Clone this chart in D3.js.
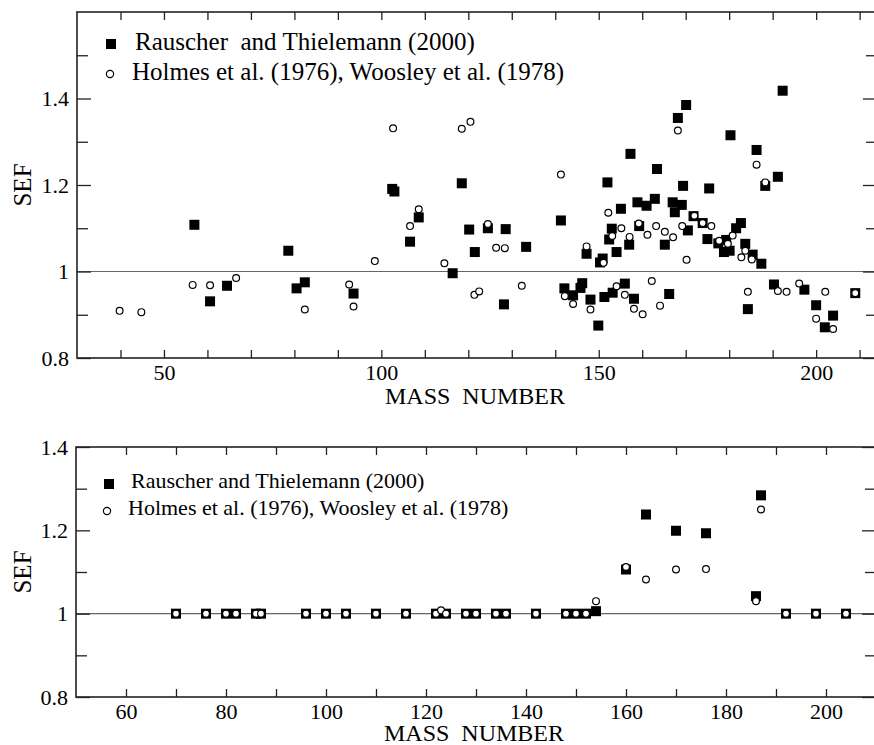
<!DOCTYPE html>
<html>
<head>
<meta charset="utf-8">
<script src="https://cdn.jsdelivr.net/npm/d3@7"></script>
<style>
  body { margin: 0; background: #fff; }
  svg { display: block; }
  svg text { font-family: "Liberation Serif", "Tinos", "Nimbus Roman", "Times New Roman", "DejaVu Serif", serif; }
</style>
</head>
<body>
<svg id="chart" width="874" height="745"></svg>
<script>
// top panel: [mass number, SEF]
var rtTop = [[57,1.108],[60.6,0.931],[64.5,0.967],[78.6,1.048],[80.5,0.961],[82.4,0.975],[93.6,0.949],
  [102.5,1.191],[103,1.185],[106.6,1.069],[108.6,1.125],[116.4,0.996],[118.5,1.204],[120.2,1.097],[121.5,1.045],
  [124.5,1.100],[128.2,0.924],[128.6,1.098],[133.3,1.057],[141.3,1.118],[142.1,0.961],[144.1,0.945],[145.8,0.962],
  [146.2,0.973],[147.2,1.041],[148.1,0.935],[149.9,0.875],[150.3,1.021],[150.9,1.030],[151.3,0.941],[152.0,1.206],
  [152.4,1.074],[153.0,1.099],[153.2,0.951],[154.1,1.045],[155.1,1.145],[156.0,0.972],[157.0,1.062],[157.3,1.272],
  [158.1,0.937],[158.9,1.160],[159.3,1.105],[161.0,1.152],[162.9,1.168],[163.4,1.237],[165.2,1.062],[166.2,0.948],
  [167.0,1.160],[167.5,1.137],[168.2,1.355],[169.1,1.154],[169.4,1.198],[170.1,1.385],[170.5,1.095],[171.8,1.128],
  [173.9,1.112],[175.0,1.075],[175.4,1.192],[177.5,1.065],[178.8,1.045],[179.3,1.073],[180.1,1.048],[180.3,1.315],
  [181.6,1.100],[182.7,1.112],[183.7,1.064],[184.3,0.913],[185.4,1.039],[186.3,1.281],[187.4,1.018],[188.3,1.198],
  [190.3,0.970],[191.2,1.219],[192.3,1.418],[197.3,0.958],[200.0,0.922],[202.0,0.871],[203.9,0.898],[209.0,0.950]];

var hwTop = [[39.8,0.909],[44.8,0.906],[56.6,0.969],[60.6,0.968],[66.6,0.985],[82.4,0.912],[92.6,0.970],[93.6,0.919],
  [98.5,1.024],[102.7,1.331],[106.6,1.105],[108.6,1.144],[114.5,1.019],[118.5,1.330],[120.5,1.346],[121.4,0.946],
  [122.5,0.954],[124.5,1.110],[126.4,1.055],[128.4,1.054],[132.3,0.967],[141.3,1.224],[142.2,0.943],[144.1,0.925],
  [147.2,1.058],[148.1,0.912],[151.1,1.020],[152.2,1.136],[153.1,1.082],[154.1,0.966],[155.2,1.100],[156.0,0.946],
  [157.1,1.080],[158.1,0.914],[159.2,1.111],[160.1,0.901],[161.2,1.085],[162.2,0.978],[163.2,1.105],[164.1,0.921],
  [165.2,1.092],[167.1,1.079],[168.2,1.326],[169.2,1.105],[170.2,1.027],[172.0,1.129],[173.9,1.112],[175.9,1.105],
  [177.7,1.071],[179.7,1.064],[180.8,1.083],[182.8,1.033],[183.7,1.048],[184.3,0.953],[185.2,1.028],[186.3,1.247],
  [188.3,1.206],[191.2,0.955],[193.2,0.953],[196.1,0.972],[200.0,0.891],[202.1,0.953],[203.9,0.867],[209.0,0.950]];

// bottom panel
var rtBottom = [[70,1],[76,1],[80,1],[82,1],[86,1],[87,1],[96,1],[100,1],[104,1],[110,1],[116,1],[122,1],[124,1],
  [128,1],[130,1],[134,1],[136,1],[142,1],[148,1],[150,1],[152,1],[154,1.006],[160,1.106],[164,1.238],[170,1.199],
  [176,1.193],[186,1.042],[187,1.284],[192,1],[198,1],[204,1]];

var hwBottom = [[70,1],[76,1],[80,1],[82,1],[86,1],[87,1],[96,1],[100,1],[104,1],[110,1],[116,1],[122,1],[123,1.008],
  [124,1],[128,1],[130,1],[134,1],[136,1],[142,1],[148,1],[150,1],[152,1],[154,1.030],[160,1.112],[164,1.082],
  [170,1.106],[176,1.107],[186,1.030],[187,1.250],[192,1],[198,1],[204,1]];

var topXTicks = d3.range(40, 211, 10);
var topYMajor = [0.8, 1, 1.2, 1.4];
var topYMinor = [0.9, 1.1, 1.3, 1.5];
var botXTicks = d3.range(60, 201, 10);
var botYMajor = [0.8, 1, 1.2, 1.4];
var botYMinor = [0.9, 1.1, 1.3];

var legendTop = ["Rauscher\u00A0\u00A0and Thielemann (2000)", "Holmes et al. (1976), Woosley et al. (1978)"];
var legendBot = ["Rauscher and Thielemann (2000)", "Holmes et al. (1976), Woosley et al. (1978)"];

var serif = "'Liberation Serif', 'Tinos', 'Nimbus Roman', 'Times New Roman', 'DejaVu Serif', serif";
var svg = d3.select("#chart");

function panel(cfg) {
  var x = d3.scaleLinear().domain(cfg.xDomain).range([cfg.left, cfg.right]);
  var y = d3.scaleLinear().domain(cfg.yDomain).range([cfg.bottom, cfg.top]);
  var g = svg.append("g");

  // SEF = 1 reference line
  g.append("line")
    .attr("x1", cfg.left).attr("x2", cfg.right)
    .attr("y1", y(1)).attr("y2", y(1))
    .attr("stroke", "#666").attr("stroke-width", 1.2);

  var s = 10;
  g.selectAll("rect.sq").data(cfg.squares).enter().append("rect")
    .attr("class", "sq")
    .attr("x", function (d) { return x(d[0]) - s / 2 })
    .attr("y", function (d) { return y(d[1]) - s / 2 })
    .attr("width", s).attr("height", s)
    .attr("fill", "#000");

  g.selectAll("circle.ci").data(cfg.circles).enter().append("circle")
    .attr("class", "ci")
    .attr("cx", function (d) { return x(d[0]) })
    .attr("cy", function (d) { return y(d[1]) })
    .attr("r", 3.4)
    .attr("fill", "#fff").attr("stroke", "#000").attr("stroke-width", 1.2);

  // axes, ticks pointing inward
  g.append("g").attr("transform", "translate(0," + cfg.bottom + ")")
    .call(d3.axisBottom(x).tickValues(cfg.xTicks).tickSize(-8).tickPadding(6)
      .tickFormat(function (d) { return d % cfg.xLabelEvery === 0 ? d : "" }));
  g.append("g").attr("transform", "translate(0," + cfg.top + ")")
    .call(d3.axisTop(x).tickValues(cfg.xTicks).tickSize(-8).tickFormat(""));

  g.append("g").attr("transform", "translate(" + cfg.left + ",0)")
    .call(d3.axisLeft(y).tickValues(cfg.yMajor).tickSize(-14).tickPadding(8)
      .tickFormat(d3.format("~g")));
  g.append("g").attr("transform", "translate(" + cfg.left + ",0)")
    .call(d3.axisLeft(y).tickValues(cfg.yMinor).tickSize(-11).tickFormat(""));
  g.append("g").attr("transform", "translate(" + cfg.right + ",0)")
    .call(d3.axisLeft(y).tickValues(cfg.yMajor).tickSize(14).tickFormat(""));
  g.append("g").attr("transform", "translate(" + cfg.right + ",0)")
    .call(d3.axisLeft(y).tickValues(cfg.yMinor).tickSize(11).tickFormat(""));

  g.selectAll(".domain").remove();
  g.selectAll("g").attr("font-family", null);
  g.selectAll(".tick line").attr("stroke", "#222").attr("stroke-width", 1.3);
  g.selectAll(".tick text").attr("fill", "#000")
    .style("font-family", serif)
    .style("font-size", cfg.tickFont + "px");

  g.append("rect")
    .attr("x", cfg.left).attr("y", cfg.top)
    .attr("width", cfg.right - cfg.left).attr("height", cfg.bottom - cfg.top)
    .attr("fill", "none").attr("stroke", "#222").attr("stroke-width", 1.6);

  // axis titles
  g.append("text")
    .attr("x", cfg.xTitleX).attr("y", cfg.xTitleY)
    .attr("text-anchor", "middle")
    .style("font-family", serif)
    .style("font-size", "24px")
    .text("MASS\u00A0\u00A0NUMBER");
  g.append("text")
    .attr("transform", "translate(31," + (cfg.top + cfg.bottom) / 2 + ") rotate(-90)")
    .attr("text-anchor", "middle")
    .style("font-family", serif)
    .style("font-size", "25px")
    .text("SEF");

  // legend
  var lg = cfg.legend;
  g.append("rect")
    .attr("x", lg.sqX - 5).attr("y", lg.sqY - 5)
    .attr("width", 10).attr("height", 10).attr("fill", "#000");
  g.append("circle")
    .attr("cx", lg.ciX).attr("cy", lg.ciY).attr("r", 3.6)
    .attr("fill", "#fff").attr("stroke", "#000").attr("stroke-width", 1.2);
  g.append("text")
    .attr("x", lg.t1X).attr("y", lg.t1Y)
    .style("font-family", serif)
    .style("font-size", lg.font + "px")
    .text(lg.labels[0]);
  g.append("text")
    .attr("x", lg.t2X).attr("y", lg.t2Y)
    .style("font-family", serif)
    .style("font-size", lg.font + "px")
    .text(lg.labels[1]);
}

panel({
  xDomain: [30, 214], yDomain: [0.8, 1.6],
  left: 77, right: 877, top: 12, bottom: 358,
  squares: rtTop, circles: hwTop,
  xTicks: topXTicks, xLabelEvery: 50,
  yMajor: topYMajor, yMinor: topYMinor,
  tickFont: 22, xTitleX: 475, xTitleY: 404,
  legend: { sqX: 111, sqY: 44, ciX: 110, ciY: 74, t1X: 135, t1Y: 50, t2X: 132, t2Y: 80, font: 25, labels: legendTop }
});

panel({
  xDomain: [50, 210], yDomain: [0.8, 1.4],
  left: 76, right: 876, top: 447, bottom: 697,
  squares: rtBottom, circles: hwBottom,
  xTicks: botXTicks, xLabelEvery: 20,
  yMajor: botYMajor, yMinor: botYMinor,
  tickFont: 22, xTitleX: 474, xTitleY: 741,
  legend: { sqX: 109, sqY: 484, ciX: 107, ciY: 511, t1X: 131, t1Y: 488, t2X: 128, t2Y: 515, font: 22, labels: legendBot }
});
</script>
</body>
</html>
